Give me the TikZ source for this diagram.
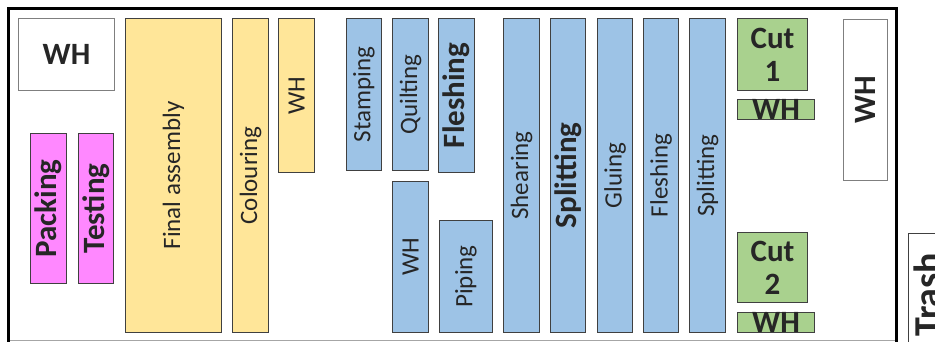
\documentclass[tikz,border=0pt]{standalone}
\usepackage{fontspec}
\setmainfont{Carlito}
\definecolor{yelc}{HTML}{FFE699}
\definecolor{bluc}{HTML}{9DC3E6}
\definecolor{magc}{HTML}{FF88FF}
\definecolor{grnc}{HTML}{A9D18E}
\definecolor{bordc}{HTML}{404040}
\definecolor{wbord}{HTML}{7F7F7F}
\definecolor{txtc}{HTML}{262626}
\newcommand\regf{\fontsize{25}{30}\selectfont}
\newcommand\bldf{\fontsize{31}{33}\selectfont\bfseries}
\begin{document}
\begin{tikzpicture}[x=1pt,y=-1pt,
  base/.style={draw=bordc, line width=1pt, inner sep=0pt, anchor=north west, text=txtc},
  yel/.style={base, fill=yelc},
  blu/.style={base, fill=bluc},
  mag/.style={base, fill=magc},
  grn/.style={base, fill=grnc},
  whb/.style={base, draw=wbord, fill=white},
  rl/.style={label={[rotate=90,font=\regf,text=txtc]center:#1}},
  bl/.style={label={[rotate=90,font=\bldf,text=txtc]center:#1}},
  hl/.style={label={[font=\bldf,text=txtc]center:#1}},
  sz/.style 2 args={minimum width=#1pt, minimum height=#2pt}]
\useasboundingbox (0,0) rectangle (935,341);
\clip (0,0) rectangle (935,341);
\fill[white] (0,0) rectangle (935,341);
% frame
\draw[line width=3pt] (8.5,350) -- (8.5,8.5) -- (896.5,8.5) -- (896.5,350);
\draw[gray!70, line width=1pt] (10,340) -- (895,340);
% left area
\node[whb, sz={96}{72}, hl=WH] (wh1) at (18,18) {};
\node[mag, sz={36}{150}, bl=Packing] (pack) at (30,133) {};
\node[mag, sz={35}{150}, bl=Testing] (test) at (78,133) {};
\node[yel, sz={96}{314}, rl=Final assembly] (final) at (125,18) {};
\node[yel, sz={36}{314}, rl=Colouring] (colour) at (232,18) {};
\node[yel, sz={36}{154}, rl=WH] (wh2) at (278,18) {};
% blue area
\node[blu, sz={35}{152}, rl=Stamping] (stamp) at (346,18) {};
\node[blu, sz={36}{152}, rl=Quilting] (quilt) at (392,18) {};
\node[blu, sz={36}{154}, bl=Fleshing] (flesh1) at (438,18) {};
\node[blu, sz={36}{151}, rl=WH] (wh3) at (392,181) {};
\node[blu, sz={53}{112}, rl=Piping] (piping) at (439,220) {};
\node[blu, sz={36}{314}, rl=Shearing] (shear) at (503,18) {};
\node[blu, sz={35}{314}, bl=Splitting] (split1) at (550,18) {};
\node[blu, sz={35}{314}, rl=Gluing] (glue) at (597,18) {};
\node[blu, sz={35}{314}, rl=Fleshing] (flesh2) at (643,18) {};
\node[blu, sz={36}{314}, rl=Splitting] (split2) at (689,18) {};
% green area
\node[grn, sz={70}{72}, align=center, font=\bldf] (cut1) at (737,18) {Cut\\1};
\node[grn, sz={77}{20}, hl=WH] (wh4) at (737,99) {};
\node[grn, sz={70}{70}, align=center, font=\bldf] (cut2) at (737,232) {Cut\\2};
\node[grn, sz={77}{20}, hl=WH] (wh5) at (737,312) {};
\node[whb, sz={44}{161}, bl=WH] (wh6) at (843,19) {};
% trash
\node[whb, draw=bordc, sz={60}{160}] (trash) at (908,233) {};
\node[rotate=90, anchor=base west, inner sep=0pt, font=\fontsize{38}{40}\selectfont\bfseries, text=txtc] (trashtxt) at (940,337) {Trash};
\end{tikzpicture}
\end{document}
